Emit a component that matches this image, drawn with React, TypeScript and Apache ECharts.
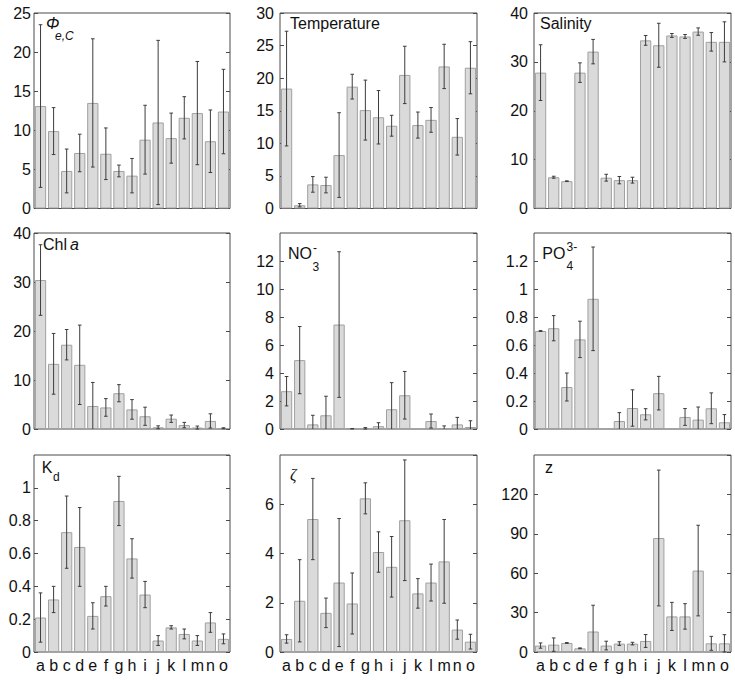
import React, { useEffect, useRef } from "react";
import * as echarts from "echarts";

const categories = ["a", "b", "c", "d", "e", "f", "g", "h", "i", "j", "k", "l", "m", "n", "o"];

const phiMean = [13.1, 9.9, 4.8, 7.1, 13.5, 7.0, 4.8, 4.2, 8.8, 11.0, 9.0, 11.6, 12.2, 8.6, 12.4];
const phiSd = [10.4, 3.0, 2.8, 2.4, 8.2, 3.3, 0.75, 2.2, 4.4, 10.5, 3.2, 2.7, 6.6, 4.0, 5.4];

const tempMean = [18.4, 0.5, 3.7, 3.6, 8.2, 18.7, 15.1, 14.0, 12.7, 20.5, 12.8, 13.6, 21.8, 11.0, 21.6];
const tempSd = [8.8, 0.25, 1.2, 1.2, 6.5, 1.9, 4.6, 4.1, 1.6, 4.4, 2.0, 1.9, 3.4, 2.8, 4.0];

const salMean = [27.8, 6.4, 5.6, 27.8, 32.1, 6.3, 5.8, 5.8, 34.4, 33.4, 35.4, 35.2, 36.2, 34.1, 34.1];
const salSd = [5.7, 0.2, 0.05, 2.0, 2.5, 0.7, 0.75, 0.6, 1.0, 4.5, 0.4, 0.4, 0.75, 1.9, 4.1];

const chlMean = [30.4, 13.3, 17.2, 13.1, 4.7, 4.4, 7.3, 4.0, 2.6, 0.35, 2.1, 0.8, 0.3, 1.65, 0.15];
const chlSd = [7.2, 6.2, 3.1, 8.1, 4.8, 1.8, 1.75, 2.0, 1.85, 0.3, 0.75, 0.55, 0.3, 1.45, 0.1];

const no3Mean = [2.7, 4.92, 0.33, 0.98, 7.46, 0.02, 0.05, 0.2, 1.41, 2.41, null, 0.57, 0.07, 0.33, 0.14];
const no3Sd = [1.05, 2.4, 0.65, 1.36, 5.2, 0, 0.05, 0.25, 1.9, 1.7, null, 0.5, 0.15, 0.5, 0.45];

const po4Mean = [0.7, 0.72, 0.3, 0.64, 0.93, null, 0.057, 0.15, 0.105, 0.256, null, 0.086, 0.067, 0.148, 0.048];
const po4Sd = [0.003, 0.09, 0.1, 0.13, 0.37, null, 0.06, 0.13, 0.04, 0.12, null, 0.06, 0.09, 0.11, 0.055];

const kdMean = [0.21, 0.32, 0.73, 0.64, 0.22, 0.34, 0.92, 0.57, 0.35, 0.07, 0.15, 0.11, 0.07, 0.18, 0.08];
const kdSd = [0.15, 0.08, 0.22, 0.24, 0.08, 0.06, 0.15, 0.12, 0.08, 0.03, 0.01, 0.03, 0.03, 0.06, 0.03];

const zetaMean = [0.53, 2.08, 5.4, 1.59, 2.82, 1.97, 6.24, 4.06, 3.46, 5.35, 2.38, 2.82, 3.68, 0.91, 0.42];
const zetaSd = [0.17, 1.67, 1.65, 0.6, 2.6, 1.24, 0.63, 0.82, 1.23, 2.45, 0.6, 0.75, 1.7, 0.39, 0.3];

const zMean = [4.9, 5.6, 6.9, 2.8, 15.6, 4.9, 6.4, 6.4, 8.4, 86.8, 27.1, 27.1, 62.0, 6.6, 6.6];
const zSd = [2, 5.1, 0.3, 0.3, 20, 3.3, 1.4, 1.0, 4.9, 51.7, 10.7, 9.7, 34.5, 5.3, 6.6];

const yMaxes = [25, 30, 40, 40, 14, 1.4, 1.2, 8, 150];
const yIntervals = [5, 5, 10, 10, 2, 0.2, 0.2, 2, 30];
const showMaxLabels = [true, true, true, true, false, false, false, false, false];

const panelMeans = [phiMean, tempMean, salMean, chlMean, no3Mean, po4Mean, kdMean, zetaMean, zMean];
const panelSds = [phiSd, tempSd, salSd, chlSd, no3Sd, po4Sd, kdSd, zetaSd, zSd];

// layout (pixels)
const colLeft = [34, 280, 534];
const colWidth = [196, 197, 197];
const rowTop = [13, 233, 455];
const rowHeight = [195.5, 196, 197];
const labelMargins = [3, 6, 6];

const FONT = "Liberation Sans, Arial, sans-serif";
const AXIS_COLOR = "#4a4a4a";

type Piece = { t: string; x: number; y: number; fs: number; italic?: boolean; serif?: boolean };
const titlePieces: Piece[] = [
  { t: "Φ", x: 46, y: 23.5, fs: 16, italic: true },
  { t: "e,C", x: 55, y: 35.5, fs: 12, italic: true },
  { t: "Temperature", x: 290, y: 23.4, fs: 16 },
  { t: "Salinity", x: 540, y: 23.7, fs: 16 },
  { t: "Chl ", x: 43, y: 244.4, fs: 16 },
  { t: "a", x: 70, y: 244.4, fs: 16, italic: true },
  { t: "NO", x: 288, y: 253.7, fs: 16 },
  { t: "3", x: 312.5, y: 267, fs: 12 },
  { t: "-", x: 313, y: 248, fs: 12 },
  { t: "PO", x: 542.3, y: 253.7, fs: 16 },
  { t: "4", x: 566.5, y: 266, fs: 12 },
  { t: "3-", x: 566.5, y: 247, fs: 12 },
  { t: "K", x: 41.7, y: 467, fs: 16 },
  { t: "d", x: 53, y: 476.5, fs: 12 },
  { t: "ζ", x: 290, y: 474, fs: 16, italic: true, serif: true },
  { t: "z", x: 545, y: 467, fs: 16 },
];

export default function App() {
  const ref = useRef<HTMLDivElement>(null);

  useEffect(() => {
    if (!ref.current) return;
    const chart = echarts.init(ref.current, undefined, { renderer: "svg" });

    const grid: any[] = [];
    const xAxis: any[] = [];
    const yAxis: any[] = [];
    const series: any[] = [];

    for (let i = 0; i < 9; i++) {
      const r = Math.floor(i / 3);
      const c = i % 3;
      grid.push({
        left: colLeft[c],
        top: rowTop[r],
        width: colWidth[c],
        height: rowHeight[r],
        show: true,
        borderColor: AXIS_COLOR,
        borderWidth: 1,
        backgroundColor: "transparent",
        containLabel: false,
      });
      xAxis.push({
        type: "category",
        gridIndex: i,
        data: categories,
        axisLine: { show: false },
        axisTick: { show: false },
        axisLabel: {
          show: r === 2,
          interval: 0,
          fontFamily: FONT,
          fontSize: 16,
          color: "#111",
          margin: 5,
        },
      });
      const axisBase = {
        type: "value",
        gridIndex: i,
        min: 0,
        max: yMaxes[i],
        interval: yIntervals[i],
        splitLine: { show: false },
        axisLine: { show: false },
        axisTick: { show: true, inside: true, length: 4, lineStyle: { color: AXIS_COLOR } },
      };
      yAxis.push({
        ...axisBase,
        position: "left",
        axisLabel: {
          show: true,
          fontFamily: FONT,
          fontSize: 16,
          color: "#111",
          margin: labelMargins[c],
          showMaxLabel: showMaxLabels[i],
        },
      });
      yAxis.push({
        ...axisBase,
        position: "right",
        axisLabel: { show: false },
      });

      const means = panelMeans[i];
      const sds = panelSds[i];
      series.push({
        type: "bar",
        xAxisIndex: i,
        yAxisIndex: 2 * i,
        data: means,
        barWidth: "86%",
        itemStyle: { color: "#dadada", borderColor: "#a0a0a0", borderWidth: 1 },
        silent: true,
      });
      const errData: any[] = [];
      means.forEach((m, k) => {
        if (m !== null && sds[k] !== null) errData.push([k, m, sds[k]]);
      });
      series.push({
        type: "custom",
        xAxisIndex: i,
        yAxisIndex: 2 * i,
        data: errData,
        silent: true,
        z: 5,
        renderItem: (params: any, api: any) => {
          const xi = api.value(0);
          const m = api.value(1);
          const s = api.value(2);
          const hiV = m + s;
          const loV = m - s;
          const hi = api.coord([xi, hiV]);
          const lo = api.coord([xi, Math.max(loV, 0)]);
          const cap = 1.8;
          const style = { stroke: "#3c3c3c", lineWidth: 1 };
          const children: any[] = [
            { type: "line", shape: { x1: hi[0], y1: hi[1], x2: lo[0], y2: lo[1] }, style },
            { type: "line", shape: { x1: hi[0] - cap, y1: hi[1], x2: hi[0] + cap, y2: hi[1] }, style },
          ];
          if (loV >= 0) {
            children.push({ type: "line", shape: { x1: lo[0] - cap, y1: lo[1], x2: lo[0] + cap, y2: lo[1] }, style });
          }
          return { type: "group", children };
        },
      });
    }

    const graphic = titlePieces.map((p) => ({
      type: "text",
      x: p.x,
      y: p.y,
      silent: true,
      style: {
        text: p.t,
        fill: "#111",
        fontSize: p.fs,
        fontFamily: p.serif ? "Liberation Serif, DejaVu Serif, serif" : FONT,
        fontStyle: p.italic ? "italic" : "normal",
        verticalAlign: "middle",
        align: "left",
      },
    }));

    chart.setOption({
      animation: false,
      backgroundColor: "#fff",
      grid,
      xAxis,
      yAxis,
      series,
      graphic,
    });

    return () => chart.dispose();
  }, []);

  return (
    <div
      ref={ref}
      style={{ position: "fixed", left: 0, top: 0, width: 735, height: 680, background: "#fff" }}
    />
  );
}
